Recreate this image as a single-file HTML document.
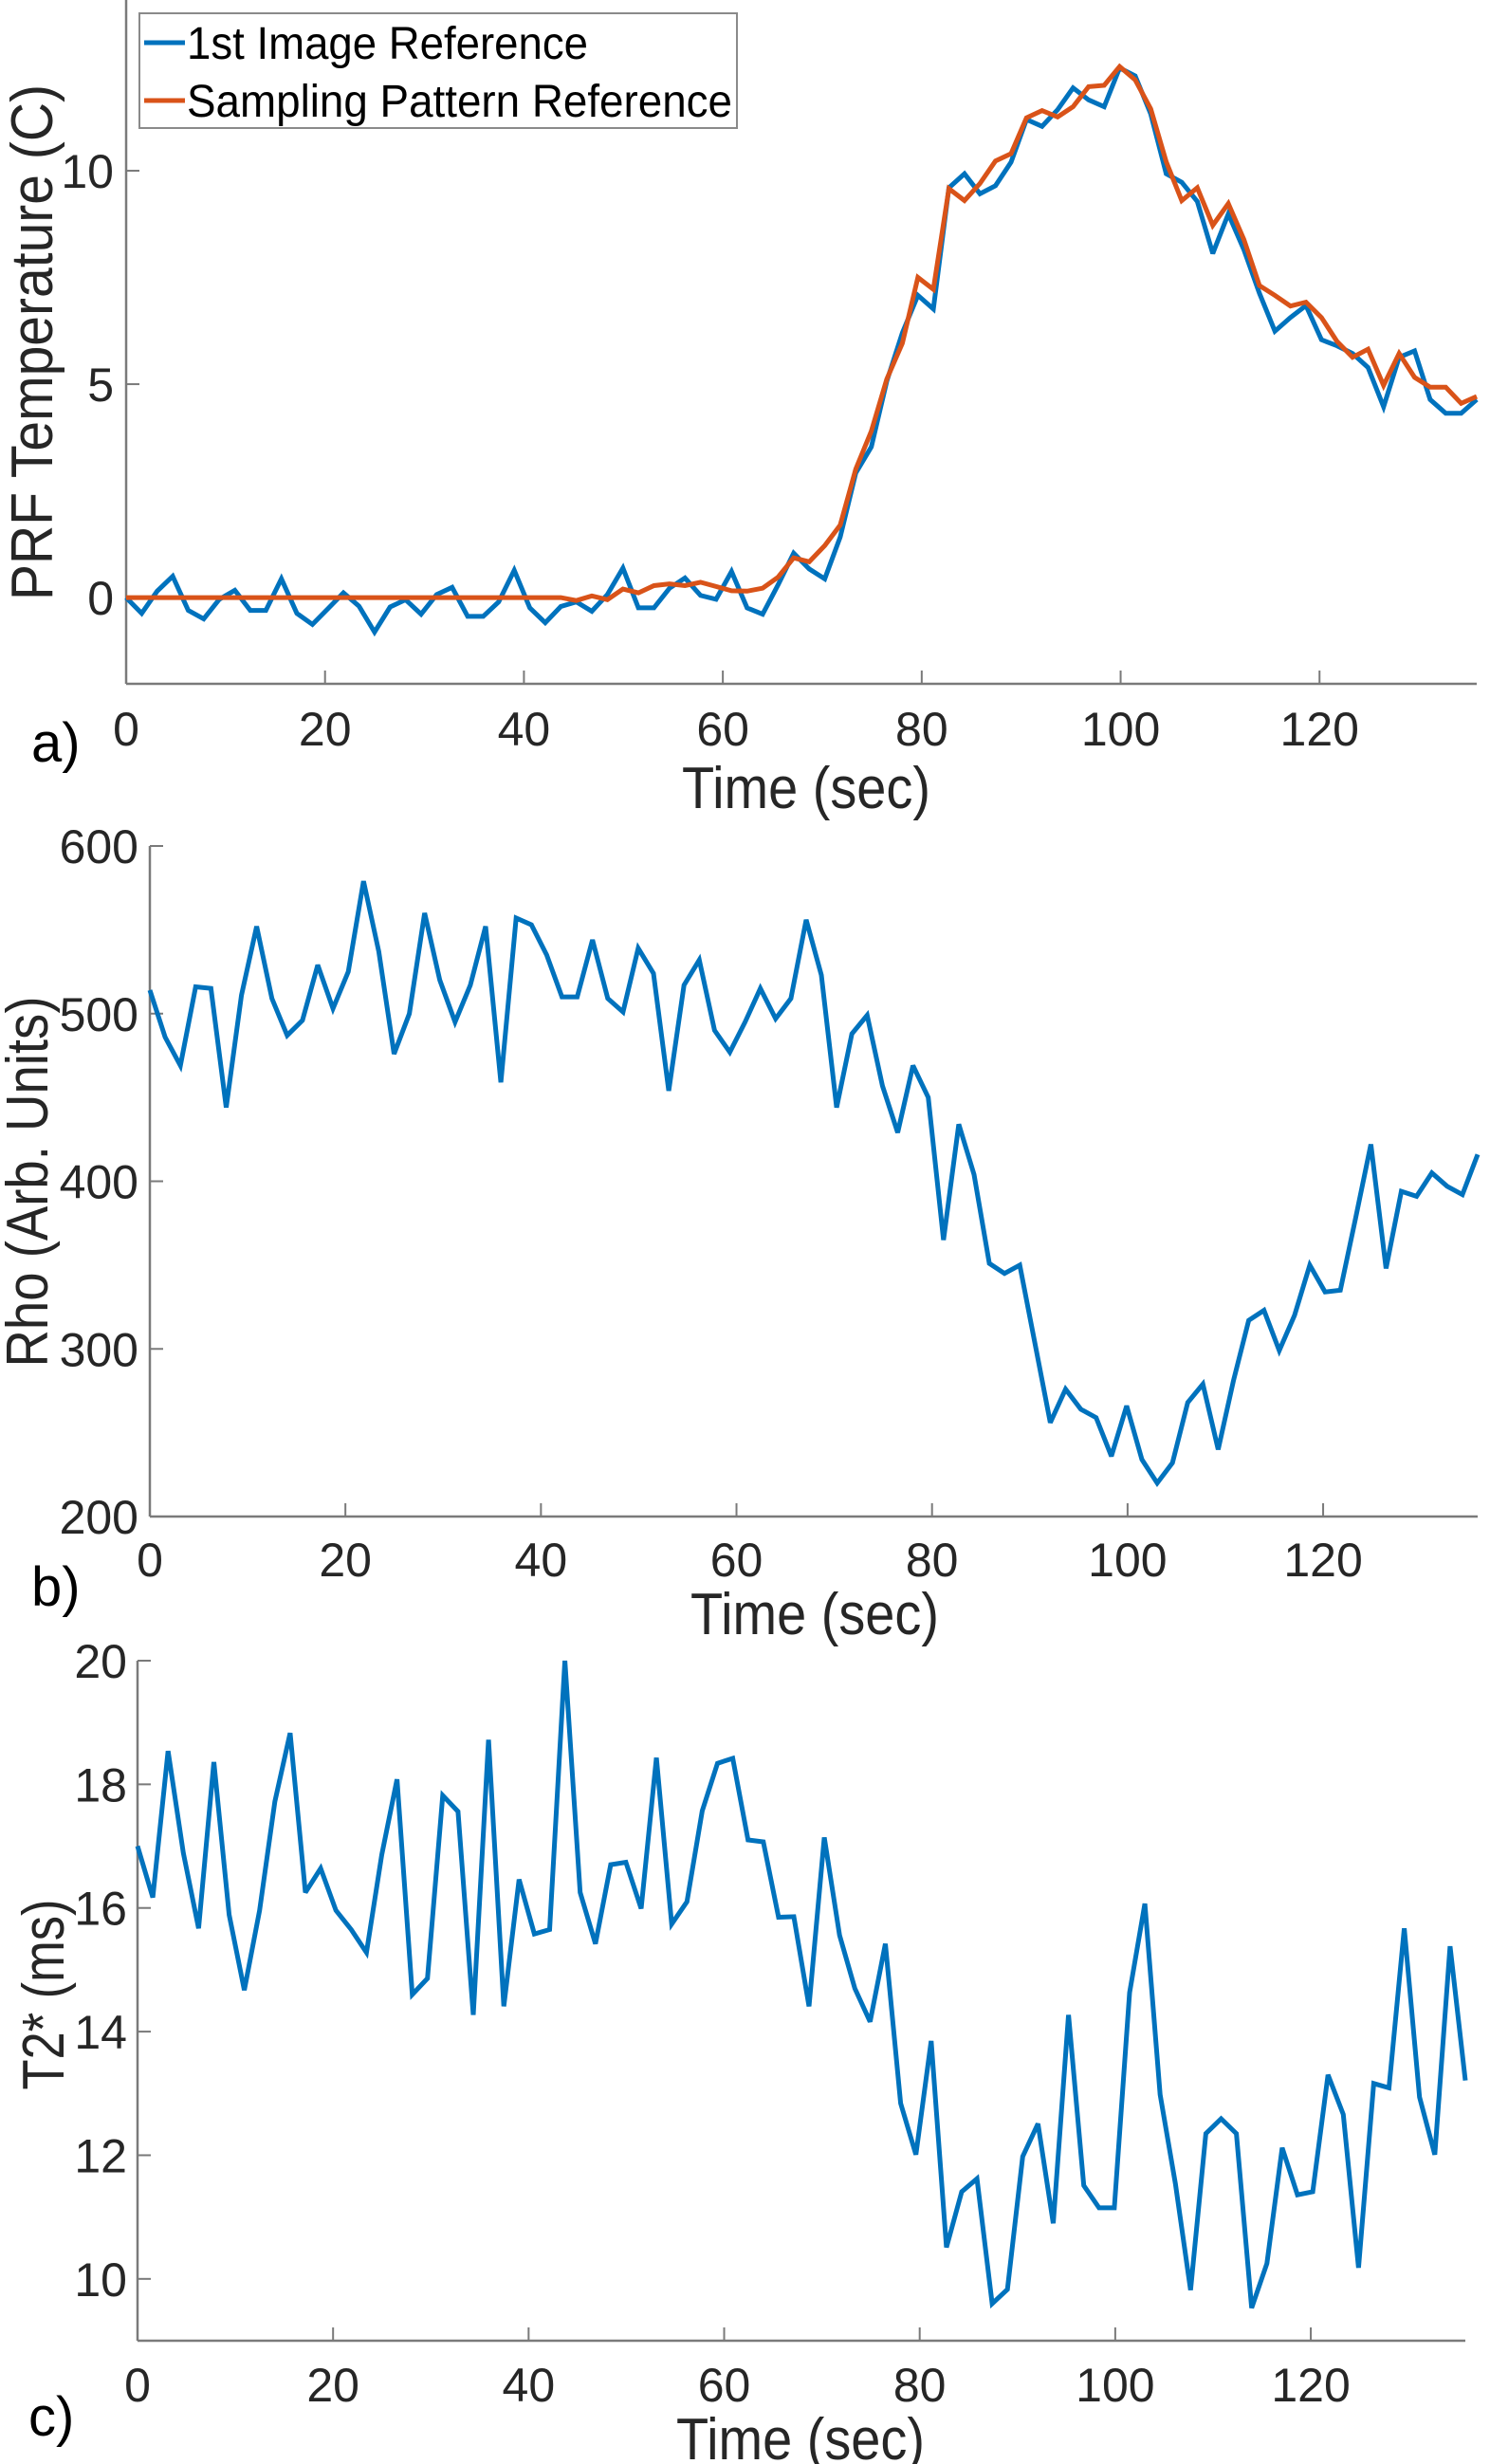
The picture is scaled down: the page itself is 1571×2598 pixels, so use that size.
<!DOCTYPE html>
<html><head><meta charset="utf-8"><style>
html,body{margin:0;padding:0;background:#fff;}
svg{display:block;font-family:"Liberation Sans",Arial,sans-serif;}
</style></head><body>
<svg id="fig" width="1571" height="2598" viewBox="0 0 1571 2598" xmlns="http://www.w3.org/2000/svg"></svg>
<script>
// ---- data (88 samples, dt ~1.561 s) ----
const dt = 1.561;
const xTicks = [0, 20, 40, 60, 80, 100, 120];
const tempBlue = [0,-0.37,0.15,0.5,-0.3,-0.5,-0.04,0.17,-0.3,-0.3,0.44,-0.37,-0.63,-0.26,0.11,-0.2,-0.81,-0.22,-0.05,-0.39,0.07,0.24,-0.44,-0.44,-0.1,0.64,-0.24,-0.59,-0.21,-0.1,-0.32,0.07,0.69,-0.24,-0.24,0.22,0.46,0.05,-0.04,0.61,-0.24,-0.39,0.3,1.04,0.67,0.44,1.42,2.92,3.53,5.07,6.2,7.08,6.76,9.6,9.93,9.46,9.65,10.2,11.2,11.04,11.43,11.94,11.66,11.5,12.41,12.22,11.33,9.93,9.73,9.28,8.06,8.99,8.15,7.13,6.24,6.56,6.84,6.04,5.9,5.72,5.39,4.47,5.63,5.78,4.64,4.32,4.32,4.64];
const tempOrange = [0,0,0,0,0,0,0,0,0,0,0,0,0,0,0,0,0,0,0,0,0,0,0,0,0,0,0,0,0,-0.07,0.04,-0.05,0.2,0.11,0.28,0.32,0.28,0.36,0.26,0.16,0.15,0.22,0.48,0.93,0.84,1.22,1.7,3.01,3.9,5.12,5.96,7.5,7.22,9.58,9.3,9.7,10.23,10.4,11.24,11.41,11.26,11.5,11.97,12.0,12.44,12.13,11.45,10.21,9.3,9.6,8.72,9.23,8.39,7.31,7.08,6.83,6.92,6.56,6.0,5.63,5.82,4.97,5.72,5.16,4.93,4.93,4.55,4.71];
const tempTicks = [0, 5, 10];
const rho = [514,486,469,516,515,444,511,552,509,487,496,529,503,525,579,537,476,500,560,520,495,517,552,459,557,553,535,510,510,544,509,501,539,524,454,517,532,490,477,495,515,497,509,556,523,444,488,499,457,429,469,450,365,434,404,351,345,350,303,256,276,264,259,236,266,234,220,232,268,279,240,281,317,323,299,320,350,334,335,378,422,348,394,391,405,397,392,416];
const rhoTicks = [200, 300, 400, 500, 600];
const t2 = [17.0,16.17,18.54,16.89,15.67,18.36,15.89,14.67,15.96,17.72,18.83,16.25,16.64,15.96,15.65,15.28,16.86,18.08,14.6,14.86,17.82,17.56,14.27,18.72,14.41,16.46,15.58,15.65,20.0,16.25,15.42,16.7,16.74,15.99,18.43,15.74,16.1,17.57,18.34,18.42,17.1,17.07,15.85,15.86,14.41,17.14,15.56,14.7,14.16,15.42,12.84,12.01,13.85,10.51,11.41,11.62,9.6,9.83,11.98,12.51,10.9,14.27,11.51,11.15,11.15,14.63,16.07,12.98,11.54,9.82,12.35,12.59,12.35,9.53,10.25,12.12,11.36,11.41,13.3,12.66,10.18,13.16,13.09,15.67,12.94,12.01,15.38,13.21];
const t2Ticks = [10, 12, 14, 16, 18, 20];

const NS = "http://www.w3.org/2000/svg";
const svg = document.getElementById('fig');
function mk(tag, attrs, parent) {
  const e = document.createElementNS(NS, tag);
  for (const k in attrs) e.setAttribute(k, attrs[k]);
  (parent || svg).appendChild(e);
  return e;
}
const AX = '#7a7a7a', TX = '#262626';

function panel(cfg) {
  const g = mk('g', {});
  
  
  const xmax = 87 * dt;
  const sx = v => cfg.x0 + (v / xmax) * (cfg.x1 - cfg.x0);
  const sy = v => cfg.yb + (v - cfg.ymin) / (cfg.ymax - cfg.ymin) * (cfg.yt - cfg.yb);
  // axes
  const ya = mk('line', {x1: cfg.x0, y1: cfg.axTop, x2: cfg.x0, y2: cfg.yb, stroke: AX, 'stroke-width': 2.5}, g);
  
  
  const xa = mk('line', {x1: cfg.x0, y1: cfg.yb, x2: cfg.x1, y2: cfg.yb, stroke: AX, 'stroke-width': 2.5}, g);
  
  
  xTicks.forEach(v => {
    const x = sx(v);
    mk('line', {x1: x, y1: cfg.yb, x2: x, y2: cfg.yb - 14, stroke: AX, 'stroke-width': 2}, g);
    const t = mk('text', {x: x, y: cfg.xtBase, 'text-anchor': 'middle', 'font-size': 50, fill: TX}, g);
    t.textContent = v;
    
    
  });
  cfg.yticks.forEach(v => {
    const y = sy(v);
    mk('line', {x1: cfg.x0, y1: y, x2: cfg.x0 + 14, y2: y, stroke: AX, 'stroke-width': 2}, g);
    const t = mk('text', {x: cfg.ytRight, y: y + 18, 'text-anchor': 'end', 'font-size': 50, fill: TX}, g);
    t.textContent = v;
    
    
  });
  // series
  cfg.series.forEach(s => {
    const pts = s.data.map((v, i) => sx(i * dt).toFixed(1) + ',' + sy(v).toFixed(1)).join(' ');
    const p = mk('polyline', {points: pts, fill: 'none', stroke: s.color, 'stroke-width': 5, 'stroke-linejoin': 'miter', 'stroke-miterlimit': 3}, g);
    
    
  });
  // x label
  const xl = mk('text', {x: cfg.xlX, y: cfg.xlBase, 'text-anchor': 'middle', 'font-size': 62, fill: TX, textLength: 262, lengthAdjust: 'spacingAndGlyphs'}, g);
  xl.textContent = 'Time (sec)';
  
  
  // y label
  const yl = mk('text', {x: 0, y: 0, 'text-anchor': 'middle', 'font-size': 62, fill: TX, textLength: cfg.ylLen, lengthAdjust: 'spacingAndGlyphs', transform: `translate(${cfg.ylBase},${cfg.ylC}) rotate(-90)`}, g);
  yl.textContent = cfg.ylabel;
  
  
  // panel letter
  const pl = mk('text', {x: cfg.letX, y: cfg.letBase, 'font-size': 58, fill: '#000', 'font-family': '"Liberation Sans", sans-serif'}, g);
  pl.textContent = cfg.letter;
  
  
  return g;
}

panel({name: 'panel-a-temperature', x0: 133, x1: 1557, yb: 721, yt: 0, axTop: 0, ymin: -2.02, ymax: 14,
  yticks: tempTicks, ytRight: 120, xtBase: 786, xlX: 850, xlBase: 852, ylabel: 'PRF Temperature (C)', ylBase: 55, ylC: 361, ylLen: 544,
  letter: 'a)', letX: 33, letBase: 803,
  series: [{name: 'series-1st-image-reference', data: tempBlue, color: '#0072BD'}, {name: 'series-sampling-pattern-reference', data: tempOrange, color: '#D95319'}]});

panel({name: 'panel-b-rho', x0: 158, x1: 1558, yb: 1599, yt: 892, axTop: 892, ymin: 200, ymax: 600,
  yticks: rhoTicks, ytRight: 146, xtBase: 1662, xlX: 859, xlBase: 1723, ylabel: 'Rho (Arb. Units)', ylBase: 50, ylC: 1246, ylLen: 391,
  letter: 'b)', letX: 33, letBase: 1693,
  series: [{name: 'series-rho', data: rho, color: '#0072BD'}]});

panel({name: 'panel-c-t2star', x0: 145, x1: 1545, yb: 2468, yt: 1751, axTop: 1751, ymin: 9, ymax: 20,
  yticks: t2Ticks, ytRight: 134, xtBase: 2532, xlX: 844, xlBase: 2593, ylabel: 'T2* (ms)', ylBase: 67, ylC: 2103, ylLen: 201,
  letter: 'c)', letX: 30, letBase: 2568,
  series: [{name: 'series-t2star', data: t2, color: '#0072BD'}]});

// legend
const lg = mk('g', {});


mk('rect', {x: 147, y: 14, width: 630, height: 121, fill: '#fff', stroke: '#8a8a8a', 'stroke-width': 2}, lg);
const entries = [['1st Image Reference', '#0072BD', 45, 423], ['Sampling Pattern Reference', '#D95319', 106, 575]];
entries.forEach(e => {
  const row = mk('g', {}, lg);
  
  
  mk('line', {x1: 152, y1: e[2], x2: 195, y2: e[2], stroke: e[1], 'stroke-width': 5}, row);
  const t = mk('text', {x: 197, y: e[2] + 17, 'font-size': 48, fill: '#000', textLength: e[3], lengthAdjust: 'spacingAndGlyphs'}, row);
  t.textContent = e[0];
});
</script>
</body></html>
